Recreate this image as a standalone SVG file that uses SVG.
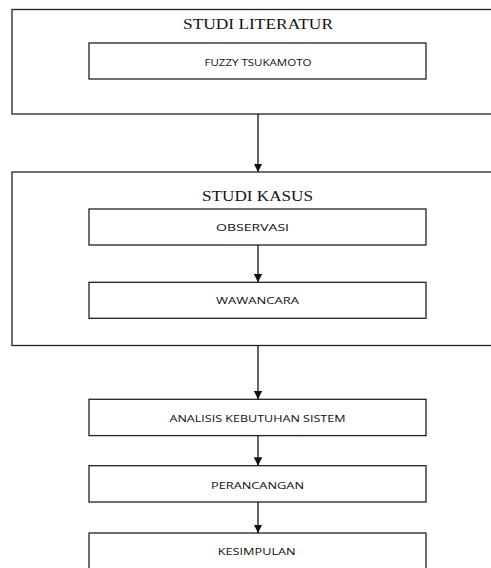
<svg xmlns="http://www.w3.org/2000/svg" width="491" height="568" viewBox="0 0 491 568">
<style>
.box{fill:#fff;stroke:#222;stroke-width:1.3}
.ttl{font-family:"Liberation Serif","Times New Roman",serif;font-size:14px;fill:#111;text-anchor:middle}
.lbl{font-family:"Open Sans","Noto Sans",sans-serif;font-size:9px;fill:#111;text-anchor:middle}
.con{stroke:#111;stroke-width:1.3;fill:none}
</style>
<defs>
<marker id="ah" viewBox="0 0 10 10" refX="10" refY="5" markerWidth="8.5" markerHeight="8.5" markerUnits="userSpaceOnUse" orient="auto">
<path d="M0,0 L10,5 L0,10 z" fill="#111"/>
</marker>
</defs>
<g id="studi-literatur">
<rect class="box" x="12" y="9.5" width="490" height="104.5"/>
<text class="ttl" x="258" y="29.3" textLength="150" lengthAdjust="spacingAndGlyphs">STUDI LITERATUR</text>
</g>
<g id="fuzzy-tsukamoto">
<rect class="box" x="89" y="43" width="337" height="36"/>
<text class="lbl" x="258" y="66" textLength="107" lengthAdjust="spacingAndGlyphs">FUZZY TSUKAMOTO</text>
</g>
<g id="studi-kasus">
<rect class="box" x="12" y="172" width="490" height="173.5"/>
<text class="ttl" x="257.5" y="200.5" textLength="111" lengthAdjust="spacingAndGlyphs">STUDI KASUS</text>
</g>
<g id="observasi">
<rect class="box" x="89" y="209" width="337" height="36"/>
<text class="lbl" x="252.5" y="230.7" textLength="73" lengthAdjust="spacingAndGlyphs">OBSERVASI</text>
</g>
<g id="wawancara">
<rect class="box" x="89" y="282.3" width="337" height="36"/>
<text class="lbl" x="257.5" y="304" textLength="83" lengthAdjust="spacingAndGlyphs">WAWANCARA</text>
</g>
<g id="analisis">
<rect class="box" x="89" y="399.3" width="337" height="36.3"/>
<text class="lbl" x="257.5" y="422" textLength="176" lengthAdjust="spacingAndGlyphs">ANALISIS KEBUTUHAN SISTEM</text>
</g>
<g id="perancangan">
<rect class="box" x="89" y="465.7" width="337" height="36.3"/>
<text class="lbl" x="257.5" y="488.5" textLength="93" lengthAdjust="spacingAndGlyphs">PERANCANGAN</text>
</g>
<g id="kesimpulan">
<rect class="box" x="89" y="533" width="337" height="40"/>
<text class="lbl" x="256.7" y="555" textLength="78" lengthAdjust="spacingAndGlyphs">KESIMPULAN</text>
</g>
<g id="connectors">
<line class="con" x1="258" y1="114" x2="258" y2="172" marker-end="url(#ah)"/>
<line class="con" x1="258" y1="245" x2="258" y2="282.3" marker-end="url(#ah)"/>
<line class="con" x1="258" y1="345.5" x2="258" y2="399.3" marker-end="url(#ah)"/>
<line class="con" x1="258" y1="435.6" x2="258" y2="465.7" marker-end="url(#ah)"/>
<line class="con" x1="258" y1="502" x2="258" y2="533" marker-end="url(#ah)"/>
</g>
</svg>
